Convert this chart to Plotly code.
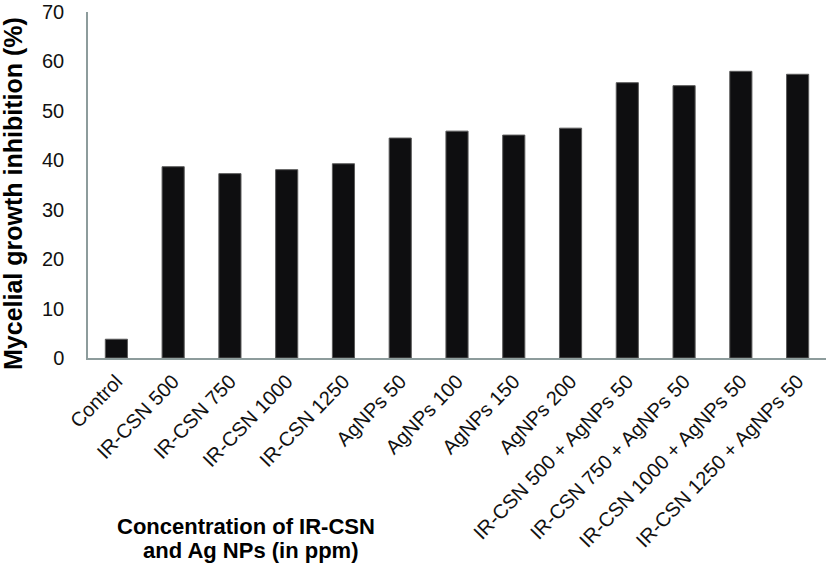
import plotly.graph_objects as go

categories = ['Control', 'IR-CSN 500', 'IR-CSN 750', 'IR-CSN 1000', 'IR-CSN 1250',
              'AgNPs 50', 'AgNPs 100', 'AgNPs 150', 'AgNPs 200',
              'IR-CSN 500 + AgNPs 50', 'IR-CSN 750 + AgNPs 50',
              'IR-CSN 1000 + AgNPs 50', 'IR-CSN 1250 + AgNPs 50']
inhibition = [3.8, 38.7, 37.3, 38.1, 39.3, 44.5, 45.9, 45.1, 46.5, 55.7, 55.1, 58.0, 57.4]
y_ticks = [0, 10, 20, 30, 40, 50, 60, 70]

FONT = 'Liberation Sans, Arial, sans-serif'
W, H = 827, 575
L, R, T, B = 88, 1, 12, 217

bars = go.Bar(
    x=categories,
    y=inhibition,
    marker=dict(color='#0e0e10', line=dict(color='#5a5a5a', width=1)),
)

layout = go.Layout(
    width=W, height=H,
    margin=dict(l=L, r=R, t=T, b=B, autoexpand=False),
    paper_bgcolor='white',
    plot_bgcolor='white',
    bargap=0.61,
    showlegend=False,
    font=dict(family=FONT, color='#111111'),
    xaxis=dict(
        type='category',
        range=[-0.5, 12.5],
        tickangle=-46,
        tickfont=dict(size=20, family=FONT, color='#111111'),
        showline=True, linecolor='#8d9c9c', linewidth=1.5,
        ticks='', showgrid=False, zeroline=False,
        ticklabelstandoff=2,
        automargin=False,
    ),
    yaxis=dict(
        range=[0, 70.001],
        tickvals=y_ticks,
        tickfont=dict(size=20, family=FONT, color='#111111'),
        showline=True, linecolor='#8d9c9c', linewidth=1.5,
        ticks='', showgrid=False, zeroline=False,
        ticklabelstandoff=18,
        ticklabeloverflow='allow',
        automargin=False,
    ),
)

fig = go.Figure(data=[bars], layout=layout)

plot_w = W - L - R
plot_h = H - T - B


def px_x(x):
    return (x - L) / plot_w


def px_y(y):
    return (H - B - y) / plot_h


fig.add_annotation(
    text='<b>Mycelial growth inhibition (%)</b>', textangle=-90,
    xref='paper', yref='paper', x=px_x(13), y=px_y(194),
    xanchor='center', yanchor='middle', showarrow=False,
    font=dict(size=25, family=FONT, color='#000000'),
)
fig.add_annotation(
    text='<b>Concentration of IR-CSN</b>',
    xref='paper', yref='paper', x=px_x(246), y=px_y(526),
    xanchor='center', yanchor='middle', showarrow=False,
    font=dict(size=22, family=FONT, color='#000000'),
)
fig.add_annotation(
    text='<b>and Ag NPs (in ppm)</b>',
    xref='paper', yref='paper', x=px_x(251), y=px_y(550),
    xanchor='center', yanchor='middle', showarrow=False,
    font=dict(size=22, family=FONT, color='#000000'),
)

# the page's default body margin would push the figure 8px down and right
fig.write_html('out.html', config={'displayModeBar': False},
               post_script="document.body.style.margin='0';")
